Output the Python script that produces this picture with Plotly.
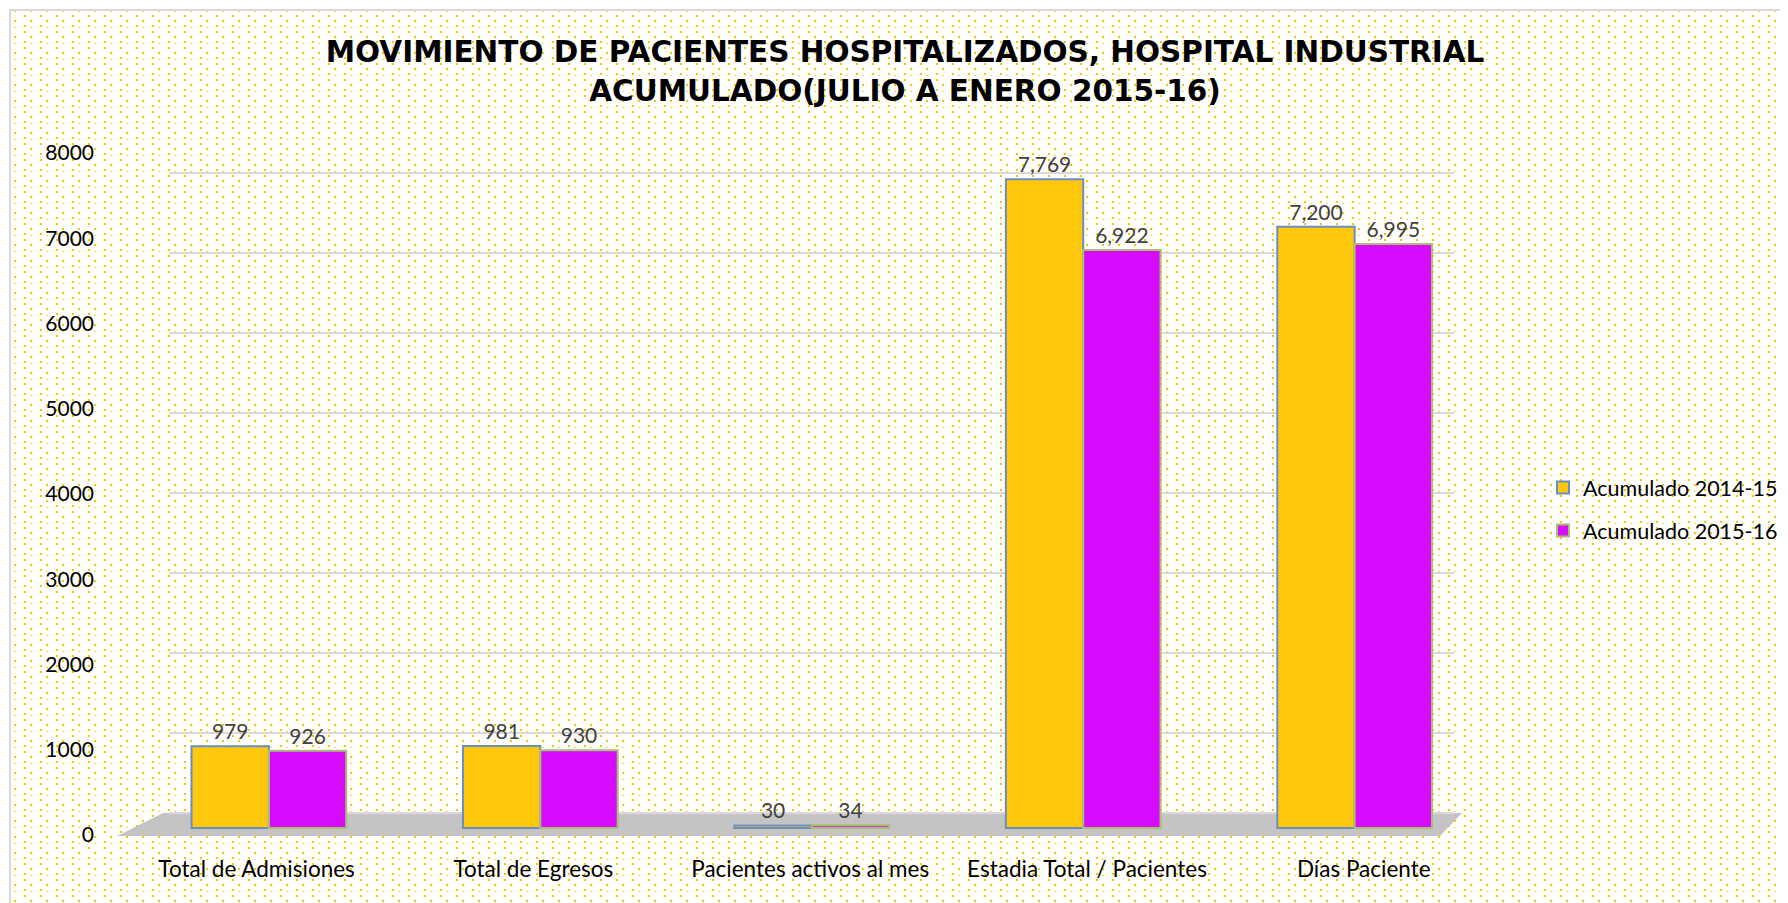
import base64
import plotly.graph_objects as go

categories = ["Total de Admisiones", "Total de Egresos", "Pacientes activos al mes",
              "Estadia Total / Pacientes", "Días Paciente"]
series_names = ["Acumulado 2014-15", "Acumulado 2015-16"]
acum_2014_15 = [979, 981, 30, 7769, 7200]
acum_2015_16 = [926, 930, 34, 6922, 6995]
y_ticks = [0, 1000, 2000, 3000, 4000, 5000, 6000, 7000, 8000]
title_lines = ["MOVIMIENTO DE PACIENTES HOSPITALIZADOS, HOSPITAL INDUSTRIAL",
               "ACUMULADO(JULIO A ENERO 2015-16)"]

W, H = 1788, 903
OFF = 8  # page body margin
# plot area in page pixels
PL, PR, PT, PB = 169, 1454, 140, 850
PW, PH = PR - PL, PB - PT
L, T = PL - OFF, PT - OFF
R, B = W - (PR - OFF), H - (PB - OFF)

FONT = "Lato, 'Open Sans', sans-serif"
YELLOW = "#FFC80C"
PURPLE = "#D70CFF"


def px2px(p):
    return (p - PL) / PW


def px2py(p):
    return (PB - p) / PH


# dotted background (decoration)
svg = (
    f"<svg xmlns='http://www.w3.org/2000/svg' width='{W}' height='{H}' shape-rendering='crispEdges'>"
    "<defs><pattern id='p' x='8' y='10' width='16' height='16' patternUnits='userSpaceOnUse'>"
    "<rect x='8' y='7' width='2' height='2' fill='#FFC000'/>"
    "<rect x='8' y='13' width='2' height='2' fill='#FFC000'/>"
    "<rect x='14' y='2' width='2' height='2' fill='#FFC000'/>"
    "<rect x='14' y='9' width='2' height='1' fill='#FFC000' opacity='0.7'/>"
    "</pattern></defs>"
    f"<rect x='2' y='2' width='{W}' height='{H}' fill='url(#p)' stroke='#D9D9D9' stroke-width='2'/>"
    "</svg>"
)
src = "data:image/svg+xml;base64," + base64.b64encode(svg.encode()).decode()

idx = list(range(len(categories)))

fig = go.Figure()
fig.add_trace(go.Bar(
    name=series_names[0], x=idx, y=acum_2014_15,
    marker=dict(color=YELLOW, line=dict(color="#6A8FBF", width=2)),
    texttemplate="%{y:,.0f}", textposition="outside",
    textfont=dict(family=FONT, size=21, color="#404040"),
    cliponaxis=False, legendgroup="a",
))
fig.add_trace(go.Bar(
    name=series_names[1], x=idx, y=acum_2015_16,
    marker=dict(color=PURPLE, line=dict(color="#A8C070", width=2)),
    texttemplate="%{y:,.0f}", textposition="outside",
    textfont=dict(family=FONT, size=21, color="#404040"),
    cliponaxis=False, legendgroup="b",
))
# placeholder traces so the label / grid axes are drawn
fig.add_trace(go.Scatter(x=[None], y=[None], xaxis="x2", yaxis="y2",
                         showlegend=False, hoverinfo="skip"))
fig.add_trace(go.Scatter(x=[None], y=[None], xaxis="x", yaxis="y3",
                         showlegend=False, hoverinfo="skip"))

# floor band (decoration)
floor = "M {} {} L {} {} L {} {} L {} {} Z".format(
    px2px(163), px2py(813), px2px(1462), px2py(813),
    px2px(1440), px2py(836), px2px(117), px2py(836))
fig.add_shape(type="path", path=floor, xref="paper", yref="paper",
              fillcolor="#C4C4C4", line=dict(width=0), layer="below")

fig.add_layout_image(dict(source=src, xref="paper", yref="paper",
                          x=px2px(OFF), y=px2py(OFF), sizex=W / PW, sizey=H / PH,
                          xanchor="left", yanchor="top", sizing="stretch",
                          layer="below"))

fig.update_layout(
    width=W, height=H,
    margin=dict(l=L, r=R, t=T, b=B, autoexpand=False),
    paper_bgcolor="white", plot_bgcolor="rgba(0,0,0,0)",
    barmode="group", bargap=0.43, bargroupgap=0,
    title=dict(text="<br>".join(title_lines), xref="container", yref="container",
               x=0.5017, xanchor="center", y=0.940, yanchor="top",
               font=dict(family="'DejaVu Sans', sans-serif", size=29.5, color="black", weight="bold")),
    xaxis=dict(range=[-0.368, 4.366], showgrid=False, showline=False, zeroline=False,
               showticklabels=False, ticks="", automargin=False),
    xaxis2=dict(range=[-0.3165, 4.326], overlaying="x", side="bottom",
                tickvals=idx, ticktext=categories, showgrid=False, showline=False,
                zeroline=False, ticks="", tickfont=dict(family=FONT, size=22.5, color="black"),
                ticklabelstandoff=3, automargin=False),
    yaxis=dict(range=[-263.5, 8239.7], showgrid=False, zeroline=False,
               showticklabels=False, showline=False, ticks="", automargin=False),
    yaxis2=dict(range=[-176.0, 8152.5], overlaying="y", side="left",
                tickvals=y_ticks, showgrid=False, zeroline=False, showline=False,
                ticks="", tickfont=dict(family=FONT, size=21, color="black"),
                ticklabelstandoff=74, automargin=False),
    yaxis3=dict(range=[-462.5, 8412.5], overlaying="y", side="left",
                tickvals=y_ticks, showgrid=True, gridcolor="#D9D9D9", gridwidth=2,
                showticklabels=False, zeroline=False, showline=False, ticks="",
                automargin=False),
    legend=dict(x=px2px(1543), y=px2py(467), xanchor="left", yanchor="top",
                font=dict(family=FONT, size=21.5, color="black"),
                traceorder="grouped", tracegroupgap=12, bgcolor="rgba(0,0,0,0)"),
    showlegend=True,
)

fig.write_html("out.html")
